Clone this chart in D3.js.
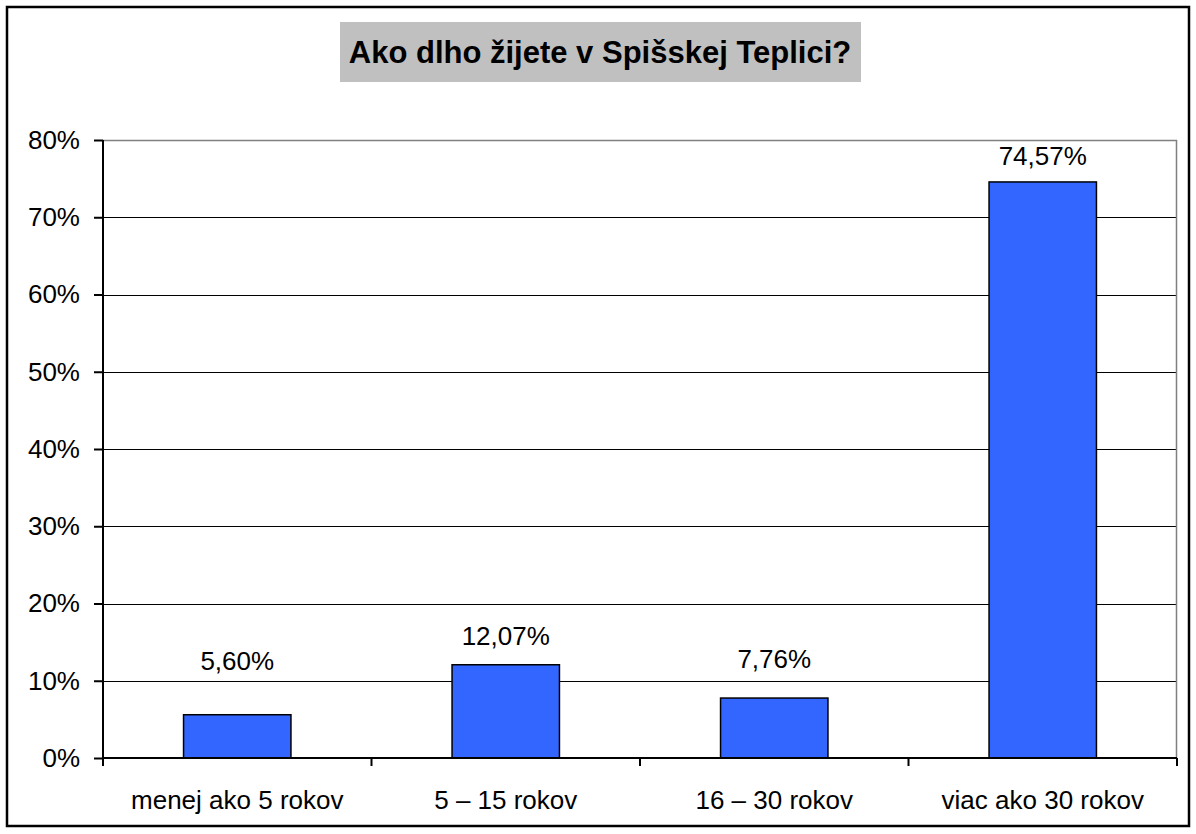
<!DOCTYPE html>
<html>
<head>
<meta charset="utf-8">
<script src="https://cdn.jsdelivr.net/npm/d3@7"></script>
<style>
  body { margin: 0; background: #fff; }
  text { font-family: "Liberation Sans", Arial, sans-serif; fill: #000; }
</style>
</head>
<body>
<div class="chart"></div>
<script>
const title = "Ako dlho žijete v Spišskej Teplici?";
const categories = ["menej ako 5 rokov", "5 – 15 rokov", "16 – 30 rokov", "viac ako 30 rokov"];
const values = [5.60, 12.07, 7.76, 74.57];
const yTicks = [0, 10, 20, 30, 40, 50, 60, 70, 80];
// labels were hand-moved in the original, pixel nudge above bar top
const labelNudge = [-45, -20, -30, -17];

const W = 1196, H = 834;
const margin = {top: 140, right: 19, bottom: 76, left: 103};
const width = W - margin.left - margin.right,
      height = H - margin.top - margin.bottom;

const fmt = v => v.toFixed(2).replace(".", ",") + "%";

const svg = d3.select(".chart").append("svg")
  .attr("width", W).attr("height", H);

// outer frame
svg.append("rect")
  .attr("x", 7).attr("y", 7)
  .attr("width", 1182).attr("height", 819)
  .attr("fill", "none").attr("stroke", "#000").attr("stroke-width", 2.5);

// title box
svg.append("rect")
  .attr("x", 340).attr("y", 22)
  .attr("width", 521).attr("height", 60)
  .attr("fill", "#c0c0c0");
svg.append("text")
  .attr("x", 600).attr("y", 63)
  .attr("text-anchor", "middle")
  .style("font-size", "31px").style("font-weight", "bold")
  .text(title);

const g = svg.append("g")
  .attr("transform", "translate(" + margin.left + "," + margin.top + ")");

const x = d3.scaleBand().domain(categories).range([0, width]).paddingInner(0.6).paddingOuter(0.3);
const xb = d3.scaleBand().domain(categories).range([0, width]);
const y = d3.scaleLinear().domain([0, 80]).range([height, 0]);

// gridlines
g.selectAll(".grid")
  .data(yTicks.filter(d => d > 0 && d < 80))
  .enter().append("line")
  .attr("x1", 0).attr("x2", width)
  .attr("y1", d => Math.round(y(d)) + 0.5).attr("y2", d => Math.round(y(d)) + 0.5)
  .attr("stroke", "#000").attr("stroke-width", 1);

// plot border top/right (gray)
g.append("path")
  .attr("d", "M0," + (y(80) + 0.5) + "H" + (width - 0.5) + "V" + height)
  .attr("fill", "none").attr("stroke", "#808080").attr("stroke-width", 1.5);

// bars
g.selectAll(".bar")
  .data(values)
  .enter().append("rect")
  .attr("x", (d, i) => x(categories[i]))
  .attr("y", d => y(d))
  .attr("width", x.bandwidth())
  .attr("height", d => height - y(d))
  .attr("fill", "#3366ff").attr("stroke", "#000").attr("stroke-width", 1.5);

// value labels
g.selectAll(".lbl")
  .data(values)
  .enter().append("text")
  .attr("x", (d, i) => x(categories[i]) + x.bandwidth() / 2)
  .attr("y", (d, i) => y(d) + labelNudge[i])
  .attr("text-anchor", "middle")
  .style("font-size", "26px")
  .text(d => fmt(d));

// y axis
const yAxis = d3.axisLeft(y).tickValues(yTicks).tickSize(9).tickPadding(14)
  .tickFormat(d => d + "%");
const ya = g.append("g").call(yAxis);
ya.select(".domain").attr("stroke-width", 2).attr("d", "M0," + y(80) + "V" + (height + 8));
ya.selectAll(".tick line").attr("stroke-width", 2);
ya.selectAll("text").style("font-size", "26px").attr("font-family", null);

// x axis
const xa = g.append("g").attr("transform", "translate(0," + height + ")");
xa.append("line")
  .attr("x1", 0).attr("x2", width)
  .attr("stroke", "#000").attr("stroke-width", 2);
xa.selectAll(".xt")
  .data(categories.concat(["end"]))
  .enter().append("line")
  .attr("x1", (d, i) => i < categories.length ? xb(d) : width)
  .attr("x2", (d, i) => i < categories.length ? xb(d) : width)
  .attr("y1", 0).attr("y2", 8)
  .attr("stroke", "#000").attr("stroke-width", 2);
xa.selectAll(".xl")
  .data(categories)
  .enter().append("text")
  .attr("x", d => xb(d) + xb.bandwidth() / 2)
  .attr("y", 51)
  .attr("text-anchor", "middle")
  .style("font-size", "26px")
  .text(d => d);
</script>
</body>
</html>
